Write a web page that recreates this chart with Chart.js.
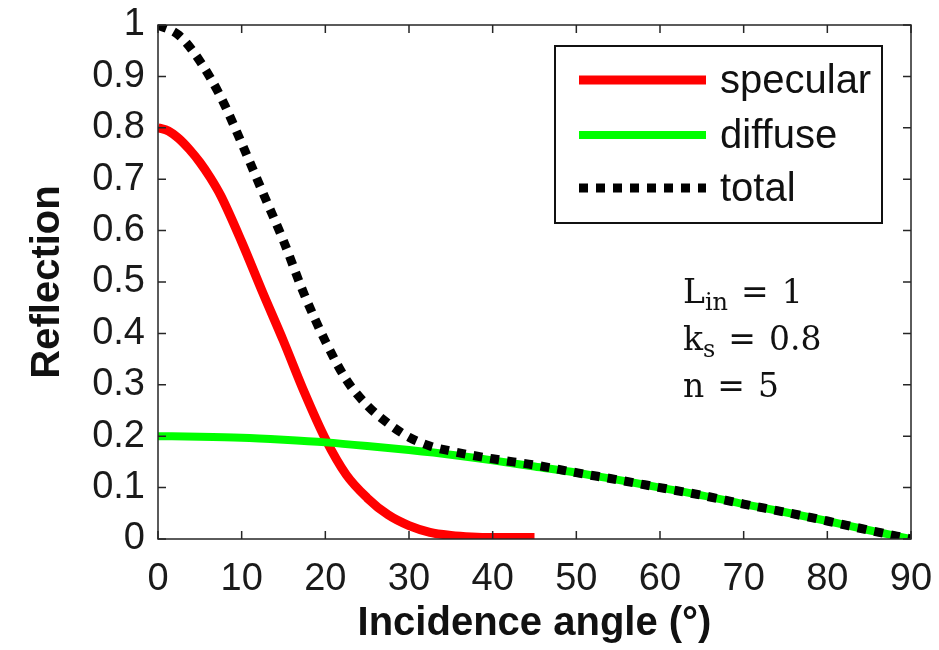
<!DOCTYPE html>
<html><head><meta charset="utf-8">
<script src="https://cdn.jsdelivr.net/npm/chart.js@4.4.0/dist/chart.umd.min.js"></script>
<style>html,body{margin:0;padding:0;background:#fff}</style>
</head><body>
<canvas id="c" width="939" height="650"></canvas>
<script>
// ---- data ----
const specAngles = [0,1.25,2.5,3.75,5,6.25,7.5,10,12.5,15,17.5,20,22.5,25,27.5,30,32.5,35,37.5,40,42.5,45];
const specValues = [0.80,0.794,0.779,0.758,0.733,0.703,0.668,0.578,0.48,0.385,0.285,0.195,0.125,0.08,0.047,0.026,0.013,0.007,0.004,0.003,0.003,0.003];
const diffAngles = [0,5,10,15,20,25,30,35,40,45,50,55,60,65,70,75,80,85,90];
const diffValues = [0.200,0.199,0.197,0.193,0.188,0.181,0.173,0.164,0.153,0.141,0.129,0.115,0.100,0.085,0.068,0.052,0.035,0.017,0.0];
const totalAngles = [0,2.5,5,7.5,10,12.5,15,17.5,20,22.5,25,27.5,30,32.5,35,37.5,40,42.5,45,50,55,60,65,70,75,80,85,90];
const totalValues = [1.00,0.98,0.93,0.86,0.77,0.675,0.58,0.475,0.385,0.31,0.26,0.225,0.198,0.181,0.171,0.163,0.156,0.150,0.144,0.129,0.115,0.100,0.085,0.068,0.052,0.035,0.017,0.0];
const seriesNames = ['specular','diffuse','total'];
const xTicks = [0,10,20,30,40,50,60,70,80,90];
const yTicks = [0,0.1,0.2,0.3,0.4,0.5,0.6,0.7,0.8,0.9,1];
const xTitle = 'Incidence angle (°)';
const yTitle = 'Reflection';
const annotations = [['L','in','1'],['k','s','0.8'],['n','','5']];

const pts = (xs, ys) => xs.map((x,i)=>({x, y: ys[i]}));
const SERIF = '"DejaVu Serif", "Liberation Serif", serif';

const frameTicks = {
  id: 'frameTicks',
  afterDraw(chart) {
    const {ctx, chartArea: a, scales: {x, y}} = chart;
    ctx.save();
    ctx.strokeStyle = '#262626';
    ctx.lineWidth = 1.5;
    ctx.strokeRect(a.left, a.top, a.right - a.left, a.bottom - a.top);
    const tl = 8;
    ctx.beginPath();
    xTicks.forEach(v => {
      const px = x.getPixelForValue(v);
      ctx.moveTo(px, a.bottom); ctx.lineTo(px, a.bottom - tl);
      ctx.moveTo(px, a.top); ctx.lineTo(px, a.top + tl);
    });
    yTicks.forEach(v => {
      const py = y.getPixelForValue(v);
      ctx.moveTo(a.left, py); ctx.lineTo(a.left + tl, py);
      ctx.moveTo(a.right, py); ctx.lineTo(a.right - tl, py);
    });
    ctx.stroke();

    // legend box
    const bx = 555, by = 46, bw = 327, bh = 177;
    ctx.fillStyle = '#fff';
    ctx.fillRect(bx, by, bw, bh);
    ctx.lineWidth = 2;
    ctx.strokeStyle = '#111';
    ctx.strokeRect(bx, by, bw, bh);
    const rows = [80, 135, 188];
    chart.data.datasets.forEach((ds, i) => {
      const ly = rows[i];
      ctx.save();
      ctx.strokeStyle = ds.borderColor;
      ctx.lineWidth = ds.borderWidth;
      ctx.lineCap = 'butt';
      ctx.setLineDash(ds.borderDash || []);
      ctx.beginPath();
      ctx.moveTo(579, ly); ctx.lineTo(706, ly);
      ctx.stroke();
      ctx.restore();
      ctx.fillStyle = '#111';
      ctx.font = '40px "Liberation Sans", Arial, sans-serif';
      ctx.textBaseline = 'alphabetic';
      ctx.textAlign = 'left';
      ctx.fillText(ds.label, 720, ly + 13);
    });

    // parameter annotation
    const base = [303, 350, 397];
    annotations.forEach((row, i) => {
      let cx = 683;
      ctx.fillStyle = '#111';
      ctx.font = '33px ' + SERIF;
      ctx.fillText(row[0], cx, base[i]);
      cx += ctx.measureText(row[0]).width;
      if (row[1]) {
        ctx.font = '24px ' + SERIF;
        ctx.fillText(row[1], cx, base[i] + 7);
        cx += ctx.measureText(row[1]).width;
      }
      cx += 13;
      ctx.font = '33px ' + SERIF;
      ctx.fillText('=', cx, base[i]);
      cx += ctx.measureText('=').width + 13;
      ctx.fillText(row[2], cx, base[i]);
    });
    ctx.restore();
  }
};

const noOverhang = s => { s.paddingTop = 0; s.paddingBottom = 0; s.paddingLeft = 0; s.paddingRight = 0; };

new Chart(document.getElementById('c'), {
  type: 'line',
  data: {
    datasets: [
      { label: seriesNames[0], data: pts(specAngles, specValues), borderColor: '#ff0000', borderWidth: 9, order: 3 },
      { label: seriesNames[1], data: pts(diffAngles, diffValues), borderColor: '#00ff00', borderWidth: 8, order: 2 },
      { label: seriesNames[2], data: pts(totalAngles, totalValues), borderColor: '#000000', borderWidth: 9, borderDash: [9, 8], order: 1 }
    ]
  },
  options: {
    responsive: false,
    animation: false,
    layout: { padding: { top: 25, right: 28, left: 0, bottom: 0 } },
    elements: {
      point: { radius: 0 },
      line: { cubicInterpolationMode: 'monotone', borderCapStyle: 'butt', fill: false }
    },
    plugins: { legend: { display: false }, tooltip: { enabled: false } },
    scales: {
      x: {
        type: 'linear', min: 0, max: 90,
        afterBuildTicks: s => { s.ticks = xTicks.map(v => ({value: v})); },
        afterFit: s => { s.height = 111; noOverhang(s); },
        grid: { display: false, drawTicks: false },
        border: { display: false },
        ticks: { padding: 18, color: '#1a1a1a', font: { family: '"Liberation Sans", Arial, sans-serif', size: 38 }, maxRotation: 0, callback: v => String(v) },
        title: { display: true, text: xTitle, color: '#111', padding: { top: 0, bottom: 2 }, font: { family: '"Liberation Sans", Arial, sans-serif', size: 40, weight: 'bold' } }
      },
      y: {
        type: 'linear', min: 0, max: 1,
        afterBuildTicks: s => { s.ticks = yTicks.map(v => ({value: v})); },
        afterFit: s => { s.width = 158; noOverhang(s); },
        grid: { display: false, drawTicks: false },
        border: { display: false },
        ticks: { padding: 13, color: '#1a1a1a', font: { family: '"Liberation Sans", Arial, sans-serif', size: 38 }, callback: v => String(Number(v.toFixed(1))) },
        title: { display: true, text: yTitle, color: '#111', padding: { top: 24, bottom: 0 }, font: { family: '"Liberation Sans", Arial, sans-serif', size: 40, weight: 'bold' } }
      }
    }
  },
  plugins: [frameTicks]
});
</script>
</body></html>
